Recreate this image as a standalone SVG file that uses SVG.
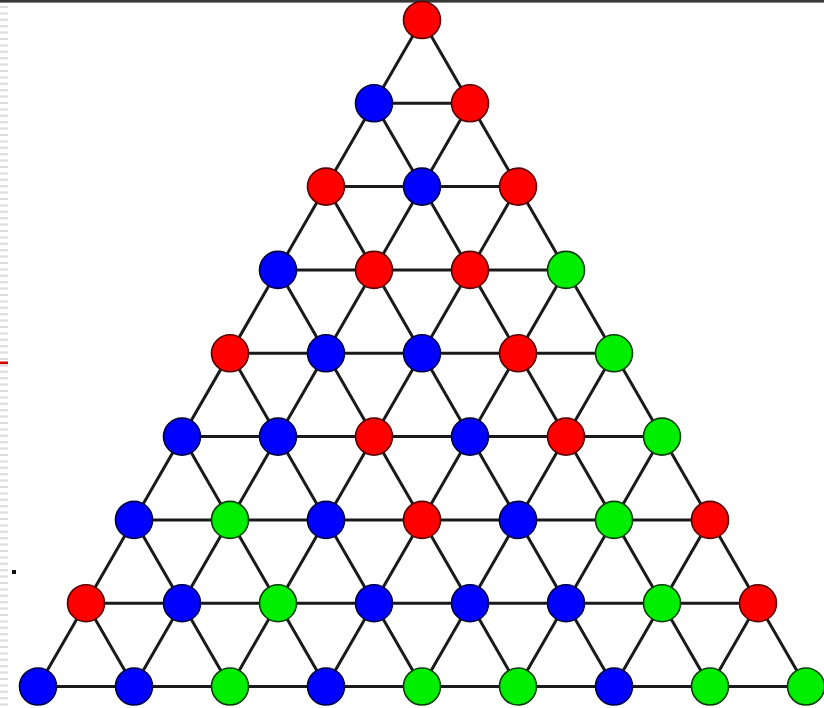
<svg xmlns="http://www.w3.org/2000/svg" width="824" height="708" viewBox="0 0 824 708">
<style>
.e{stroke:#1a1a1a;stroke-width:3;fill:none}
.n{stroke-width:1.6}
.R{fill:#ff0000;stroke:#5a0000}
.B{fill:#0000ff;stroke:#00004a}
.G{fill:#00ee00;stroke:#064006}
</style>
<rect x="0" y="0" width="824" height="708" fill="#ffffff"/>
<rect x="0" y="0" width="824" height="2.6" fill="#383838"/>
<line x1="4" y1="6" x2="4" y2="708" stroke="#dcdcdc" stroke-width="8" stroke-dasharray="2 4.4"/>
<rect x="0" y="361.5" width="8" height="2.6" fill="#cc0000"/>
<rect x="12" y="570" width="4" height="4" fill="#111111"/>
<g id="connectors" class="e">
<path d="M374 103.3H470M326 186.6H518M278 269.9H566M230 353.3H614M182 436.6H662M134 519.9H710M86 603.2H758M38 686.5H806"/>
<path d="M422 20L38 686.5M470 103.3L134 686.5M518 186.6L230 686.5M566 269.9L326 686.5M614 353.3L422 686.5M662 436.6L518 686.5M710 519.9L614 686.5M758 603.2L710 686.5"/>
<path d="M422 20L806 686.5M374 103.3L710 686.5M326 186.6L614 686.5M278 269.9L518 686.5M230 353.3L422 686.5M182 436.6L326 686.5M134 519.9L230 686.5M86 603.2L134 686.5"/>
</g>
<g id="n0_0"><circle class="n R" cx="422" cy="20" r="18.5"/></g>
<g id="n1_0"><circle class="n B" cx="374" cy="103.3" r="18.5"/></g>
<g id="n1_1"><circle class="n R" cx="470" cy="103.3" r="18.5"/></g>
<g id="n2_0"><circle class="n R" cx="326" cy="186.6" r="18.5"/></g>
<g id="n2_1"><circle class="n B" cx="422" cy="186.6" r="18.5"/></g>
<g id="n2_2"><circle class="n R" cx="518" cy="186.6" r="18.5"/></g>
<g id="n3_0"><circle class="n B" cx="278" cy="269.9" r="18.5"/></g>
<g id="n3_1"><circle class="n R" cx="374" cy="269.9" r="18.5"/></g>
<g id="n3_2"><circle class="n R" cx="470" cy="269.9" r="18.5"/></g>
<g id="n3_3"><circle class="n G" cx="566" cy="269.9" r="18.5"/></g>
<g id="n4_0"><circle class="n R" cx="230" cy="353.3" r="18.5"/></g>
<g id="n4_1"><circle class="n B" cx="326" cy="353.3" r="18.5"/></g>
<g id="n4_2"><circle class="n B" cx="422" cy="353.3" r="18.5"/></g>
<g id="n4_3"><circle class="n R" cx="518" cy="353.3" r="18.5"/></g>
<g id="n4_4"><circle class="n G" cx="614" cy="353.3" r="18.5"/></g>
<g id="n5_0"><circle class="n B" cx="182" cy="436.6" r="18.5"/></g>
<g id="n5_1"><circle class="n B" cx="278" cy="436.6" r="18.5"/></g>
<g id="n5_2"><circle class="n R" cx="374" cy="436.6" r="18.5"/></g>
<g id="n5_3"><circle class="n B" cx="470" cy="436.6" r="18.5"/></g>
<g id="n5_4"><circle class="n R" cx="566" cy="436.6" r="18.5"/></g>
<g id="n5_5"><circle class="n G" cx="662" cy="436.6" r="18.5"/></g>
<g id="n6_0"><circle class="n B" cx="134" cy="519.9" r="18.5"/></g>
<g id="n6_1"><circle class="n G" cx="230" cy="519.9" r="18.5"/></g>
<g id="n6_2"><circle class="n B" cx="326" cy="519.9" r="18.5"/></g>
<g id="n6_3"><circle class="n R" cx="422" cy="519.9" r="18.5"/></g>
<g id="n6_4"><circle class="n B" cx="518" cy="519.9" r="18.5"/></g>
<g id="n6_5"><circle class="n G" cx="614" cy="519.9" r="18.5"/></g>
<g id="n6_6"><circle class="n R" cx="710" cy="519.9" r="18.5"/></g>
<g id="n7_0"><circle class="n R" cx="86" cy="603.2" r="18.5"/></g>
<g id="n7_1"><circle class="n B" cx="182" cy="603.2" r="18.5"/></g>
<g id="n7_2"><circle class="n G" cx="278" cy="603.2" r="18.5"/></g>
<g id="n7_3"><circle class="n B" cx="374" cy="603.2" r="18.5"/></g>
<g id="n7_4"><circle class="n B" cx="470" cy="603.2" r="18.5"/></g>
<g id="n7_5"><circle class="n B" cx="566" cy="603.2" r="18.5"/></g>
<g id="n7_6"><circle class="n G" cx="662" cy="603.2" r="18.5"/></g>
<g id="n7_7"><circle class="n R" cx="758" cy="603.2" r="18.5"/></g>
<g id="n8_0"><circle class="n B" cx="38" cy="686.5" r="18.5"/></g>
<g id="n8_1"><circle class="n B" cx="134" cy="686.5" r="18.5"/></g>
<g id="n8_2"><circle class="n G" cx="230" cy="686.5" r="18.5"/></g>
<g id="n8_3"><circle class="n B" cx="326" cy="686.5" r="18.5"/></g>
<g id="n8_4"><circle class="n G" cx="422" cy="686.5" r="18.5"/></g>
<g id="n8_5"><circle class="n G" cx="518" cy="686.5" r="18.5"/></g>
<g id="n8_6"><circle class="n B" cx="614" cy="686.5" r="18.5"/></g>
<g id="n8_7"><circle class="n G" cx="710" cy="686.5" r="18.5"/></g>
<g id="n8_8"><circle class="n G" cx="806" cy="686.5" r="18.5"/></g>
</svg>
